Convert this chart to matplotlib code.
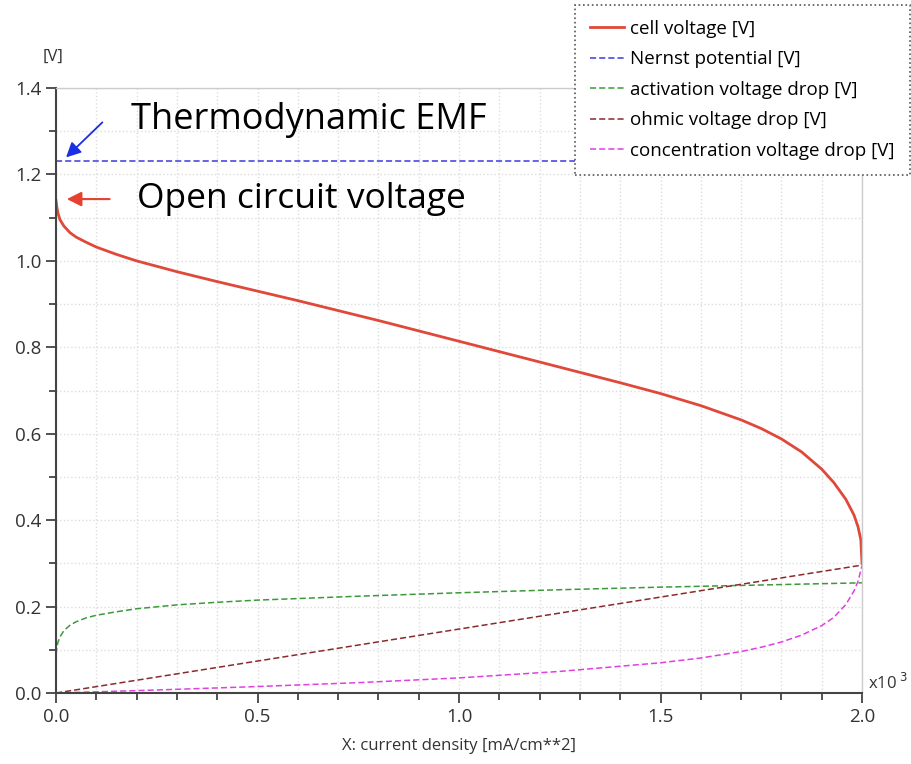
import matplotlib
matplotlib.use("Agg")
import matplotlib.pyplot as plt
from matplotlib.ticker import MultipleLocator

plt.rcParams['font.family'] = ['Open Sans', 'DejaVu Sans']

# current density (x10^3 mA/cm**2)
j_cell = [0.0, 0.002, 0.005, 0.01, 0.02, 0.035, 0.05, 0.075, 0.1, 0.15, 0.2, 0.3, 0.4, 0.5, 0.6,
          0.7, 0.8, 0.9, 1.0, 1.1, 1.2, 1.3, 1.4, 1.5, 1.6, 1.7, 1.75, 1.8, 1.85, 1.9, 1.93,
          1.96, 1.98, 1.99, 1.997, 2.0]
v_cell = [1.14, 1.125, 1.11, 1.095, 1.08, 1.065, 1.055, 1.043, 1.032, 1.015, 1.0, 0.975, 0.952, 0.93, 0.908,
          0.885, 0.862, 0.838, 0.814, 0.79, 0.766, 0.742, 0.718, 0.693, 0.665, 0.632, 0.612, 0.588, 0.558, 0.518, 0.487,
          0.448, 0.412, 0.385, 0.355, 0.30]

j_nernst = [0.0, 2.0]
v_nernst = [1.23, 1.23]

j_act = [0.0, 0.002, 0.005, 0.01, 0.02, 0.035, 0.05, 0.075, 0.1, 0.15, 0.2, 0.3, 0.4, 0.5, 0.75,
         1.0, 1.25, 1.5, 1.75, 2.0]
v_act = [0.09, 0.105, 0.118, 0.13, 0.145, 0.157, 0.165, 0.174, 0.18, 0.188, 0.195, 0.204, 0.21, 0.215, 0.224,
         0.232, 0.239, 0.245, 0.25, 0.255]

j_ohm = [0.0, 0.5, 1.0, 1.5, 2.0]
v_ohm = [0.0, 0.074, 0.148, 0.222, 0.296]

j_conc = [0.0, 0.25, 0.5, 0.75, 1.0, 1.25, 1.5, 1.6, 1.7, 1.75, 1.8, 1.85, 1.9, 1.93, 1.96, 1.98, 1.99, 2.0]
v_conc = [0.0, 0.007, 0.015, 0.024, 0.035, 0.05, 0.07, 0.081, 0.096, 0.106, 0.118, 0.134, 0.156, 0.175, 0.205, 0.236, 0.258, 0.295]

fig = plt.figure(figsize=(9.12, 7.64), dpi=100)
ax = fig.add_axes([0.0614, 0.0929, 0.8838, 0.7919])

ax.plot(j_cell, v_cell, color='#e0483a', lw=2, label='cell voltage [V]')
ax.plot(j_nernst, v_nernst, color='#3a3ae0', lw=1.1, ls=(0, (4, 2)), label='Nernst potential [V]')
ax.plot(j_act, v_act, color='#3a9a3a', lw=1.1, ls=(0, (4, 2)), label='activation voltage drop [V]')
ax.plot(j_ohm, v_ohm, color='#8b2a2a', lw=1.1, ls=(0, (4, 2)), label='ohmic voltage drop [V]')
ax.plot(j_conc, v_conc, color='#e040e0', lw=1.1, ls=(0, (4, 2)), label='concentration voltage drop [V]')

ax.set_xlim(0, 2.0)
ax.set_ylim(0, 1.4)
ax.xaxis.set_major_locator(MultipleLocator(0.5))
ax.xaxis.set_minor_locator(MultipleLocator(0.1))
ax.yaxis.set_major_locator(MultipleLocator(0.2))
ax.yaxis.set_minor_locator(MultipleLocator(0.1))
ax.xaxis.set_major_formatter(plt.FormatStrFormatter('%.1f'))
ax.yaxis.set_major_formatter(plt.FormatStrFormatter('%.1f'))
ax.grid(which='both', color='#dddddd', ls=':', lw=1)
ax.tick_params(which='both', direction='out', color='#444444', width=1.3, labelsize=13.5, labelcolor='#333333')
ax.tick_params(which='major', length=7)
ax.tick_params(which='minor', length=5)
for s in ['left', 'bottom']:
    ax.spines[s].set_color('#444444')
    ax.spines[s].set_linewidth(1.5)
for s in ['top', 'right']:
    ax.spines[s].set_color('#cccccc')
    ax.spines[s].set_linewidth(1)

ax.set_xlabel('X: current density [mA/cm**2]', fontsize=12, color='#333333', labelpad=9)
fig.text(43 / 912, 1 - 57 / 764, '[V]', fontsize=12, color='#333333', ha='left', va='center')
fig.text(868 / 912, 1 - 683 / 764, 'x10$^{\\ 3}$', fontsize=12, color='#333333', ha='left', va='center')

ax.annotate('', xy=(0.02, 1.235), xytext=(0.12, 1.325),
            arrowprops=dict(arrowstyle='-|>', color='#1a2ee6', lw=1.3, mutation_scale=22))
ax.text(0.185, 1.325, 'Thermodynamic EMF', fontsize=26, va='center', ha='left', color='black')
ax.annotate('', xy=(0.02, 1.143), xytext=(0.14, 1.143),
            arrowprops=dict(arrowstyle='-|>', color='#e8402e', lw=1.5, mutation_scale=22))
ax.text(0.2, 1.143, 'Open circuit voltage', fontsize=25.5, va='center', ha='left', color='black')

leg = fig.legend(loc='upper right', bbox_to_anchor=(910 / 912, 1 - 5 / 764), fontsize=13.5,
                 frameon=True, fancybox=False, borderpad=0.8, labelspacing=0.66,
                 handlelength=1.8, handletextpad=0.35, borderaxespad=0)
leg.get_frame().set_edgecolor('#555555')
leg.get_frame().set_linestyle(':')
leg.get_frame().set_linewidth(1.2)
leg.get_frame().set_alpha(1)

fig.savefig('out.png', dpi=100)
